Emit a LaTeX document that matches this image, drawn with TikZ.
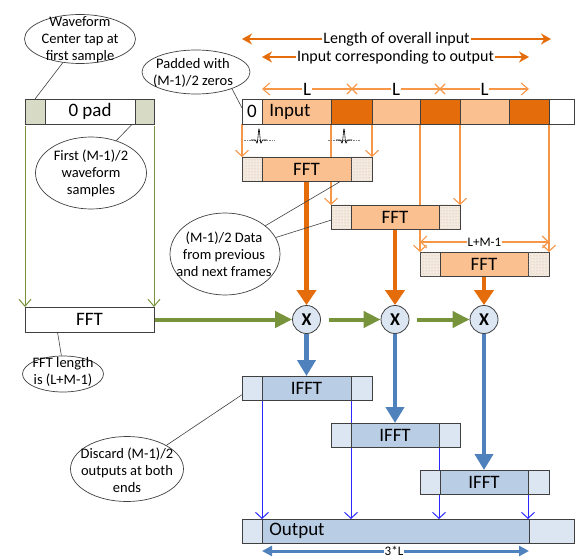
\documentclass[tikz,border=0pt]{standalone}
\usepackage{fontspec}
\setmainfont{Carlito}
\usetikzlibrary{arrows.meta,shapes.geometric,patterns}
\definecolor{dor}{HTML}{E46C0A}
\definecolor{lor}{HTML}{FAC090}
\definecolor{tor}{HTML}{F79646}
\definecolor{grn}{HTML}{77933C}
\definecolor{bthick}{HTML}{4F81BD}
\definecolor{bmid}{HTML}{B9CDE5}
\definecolor{blight}{HTML}{DCE6F2}
\definecolor{gpad}{HTML}{D7DBC6}
\definecolor{beig}{HTML}{F4EADF}
\definecolor{dotc}{HTML}{C9B49E}
\definecolor{bord}{HTML}{404040}
\definecolor{bthin}{HTML}{2A2AFF}
\newcommand{\fsz}[1]{\fontsize{#1}{#1}\selectfont}
\pgfdeclarelayer{bg}
\pgfsetlayers{bg,main}
\begin{document}
\begin{tikzpicture}[x=1pt,y=-1pt,
 seg/.style={draw=bord, line width=0.8pt, inner sep=0pt, outer sep=0pt, anchor=north west, minimum height=24pt, font=\fsz{19}},
 dpad/.style={seg, fill=beig, postaction={pattern=dots, pattern color=dotc}},
 ell/.style={draw=bord, line width=0.7pt, ellipse, inner sep=0pt},
 etext/.style={align=center, font=\fontsize{14.5}{17}\selectfont, inner sep=0pt},
 othin/.style={draw=tor, line width=1.1pt},
 otip/.style={othin, -{Straight Barb[length=6pt,width=13pt]}},
 othk/.style={draw=dor, line width=4.5pt, -{Triangle[length=15pt,width=19pt]}},
 bthk/.style={draw=bthick, line width=4.5pt, -{Triangle[length=16pt,width=18pt]}},
 gthk/.style={draw=grn, line width=4pt, -{Triangle[length=17pt,width=16pt]}},
 gthin/.style={draw=grn, line width=1pt, -{Straight Barb[length=7pt,width=12pt]}},
 bthn/.style={draw=bthin, line width=1pt, -{Straight Barb[length=6pt,width=13pt]}},
 ann/.style={draw=bord, line width=0.6pt},
 xc/.style={circle, draw=bord, fill=blight, line width=0.8pt, minimum size=28pt, inner sep=0pt, font=\bfseries\fsz{18}},
 wlbl/.style={fill=white, inner sep=1pt},
 pulse/.style={black, line width=0.6pt},
 pbase/.style={gray, line width=0.5pt, dash pattern=on 1.5pt off 1pt}
]
\useasboundingbox (0,0) rectangle (576,559);

% ---------- ellipses ----------
\node[ell, minimum width=111pt, minimum height=49pt] (e1) at (80,39) {};
\node[etext] (t1) at (80,40) {Waveform\\Center tap at\\first sample};
\node[ell, minimum width=111pt, minimum height=72pt] (e2) at (91,173) {};
\node[etext] (t2) at (91,173) {First (M-1)/2\\waveform\\samples};
\node[ell, minimum width=108pt, minimum height=44pt] (e3) at (196,72) {};
\node[etext] (t3) at (193,73) {Padded with\\(M-1)/2 zeros};
\node[ell, minimum width=110pt, minimum height=82pt] (e4) at (225,254) {};
\node[etext] (t4) at (224,254) {(M-1)/2 Data\\from previous\\and next frames};
\node[ell, minimum width=81pt, minimum height=36pt] (e5) at (63,374) {};
\node[etext] (t5) at (63,372) {FFT length\\is (L+M-1)};
\node[ell, minimum width=113pt, minimum height=65pt] (e6) at (127,469) {};
\node[etext] (t6) at (127,470) {Discard (M-1)/2\\outputs at both\\ends};

% ---------- 0 pad and left FFT ----------
\node[seg, fill=gpad, minimum width=20pt, minimum height=25pt] (pa) at (25,99) {};
\node[seg, fill=white, minimum width=90pt, minimum height=25pt] (pb) at (45,99) {0 pad};
\node[seg, fill=gpad, minimum width=19pt, minimum height=25pt] (pc) at (135,99) {};
\node[seg, fill=white, minimum width=129pt, minimum height=25pt] (fl) at (25,307) {FFT};
\coordinate (flp) at (56,323);

% ---------- input bar ----------
\node[seg, fill=white, minimum width=20pt, minimum height=25pt] (in0) at (242,99) {0};
\node[seg, fill=lor, minimum width=69pt, minimum height=25pt] (in1) at (262,99) {};
\node[font=\fsz{19}, inner sep=0pt] (inlbl) at (290,111.5) {Input};
\node[seg, fill=dor, minimum width=41pt, minimum height=25pt] (in2) at (331,99) {};
\node[seg, fill=lor, minimum width=48pt, minimum height=25pt] (in3) at (372,99) {};
\node[seg, fill=dor, minimum width=40pt, minimum height=25pt] (in4) at (420,99) {};
\node[seg, fill=lor, minimum width=49pt, minimum height=25pt] (in5) at (460,99) {};
\node[seg, fill=dor, minimum width=40pt, minimum height=25pt] (in6) at (509,99) {};
\node[seg, fill=white, minimum width=25pt, minimum height=25pt] (in7) at (549,99) {};

% ---------- FFT boxes ----------
\node[dpad, minimum width=20pt] (f1a) at (242,157) {};
\node[seg, fill=lor, minimum width=89pt] (f1b) at (262,157) {FFT};
\node[dpad, minimum width=21pt] (f1c) at (351,157) {};
\node[dpad, minimum width=20pt] (f2a) at (331,205) {};
\node[seg, fill=lor, minimum width=88pt] (f2b) at (351,205) {FFT};
\node[dpad, minimum width=21pt] (f2c) at (439,205) {};
\node[dpad, minimum width=20pt] (f3a) at (420,252) {};
\node[seg, fill=lor, minimum width=88pt] (f3b) at (440,252) {FFT};
\node[dpad, minimum width=21pt] (f3c) at (528,252) {};

% ---------- multipliers ----------
\node[xc] (x1) at (306.5,319.5) {X};
\node[xc] (x2) at (395,319.5) {X};
\node[xc] (x3) at (484,319.5) {X};

% ---------- IFFT boxes ----------
\node[seg, fill=blight, minimum width=20pt] (i1a) at (242,376) {};
\node[seg, fill=bmid, minimum width=89pt] (i1b) at (262,376) {IFFT};
\node[seg, fill=blight, minimum width=21pt] (i1c) at (351,376) {};
\node[seg, fill=blight, minimum width=20pt] (i2a) at (331,423) {};
\node[seg, fill=bmid, minimum width=88pt] (i2b) at (351,423) {IFFT};
\node[seg, fill=blight, minimum width=21pt] (i2c) at (439,423) {};
\node[seg, fill=blight, minimum width=20pt] (i3a) at (420,470) {};
\node[seg, fill=bmid, minimum width=88pt] (i3b) at (440,470) {IFFT};
\node[seg, fill=blight, minimum width=21pt] (i3c) at (528,470) {};

% ---------- output ----------
\node[seg, fill=blight, minimum width=20pt] (oa) at (242,519) {};
\node[seg, fill=bmid, minimum width=267pt] (ob) at (262,519) {};
\node[font=\fsz{19}, inner sep=0pt] (olbl) at (297,531) {Output};
\node[seg, fill=blight, minimum width=45pt] (oc) at (529,519) {};

% ---------- connectors behind boxes ----------
\begin{pgfonlayer}{bg}
\draw[otip] (in0.south west) -- (f1a.north west);
\draw[otip] (in2.south west) -- (f2a.north west);
\draw[otip] (in2.south east) -- (f1c.north east);
\draw[otip] (in4.south west) -- (f3a.north west);
\draw[otip] (in4.south east) -- (f2c.north east);
\draw[otip] (in6.south east) -- (f3c.north east);

\draw[othk] (f1b.south) -- (x1.north);
\draw[othk] (f2b.south) -- (x2.north);
\draw[othk] (f3b.south) -- (x3.north);

\draw[bthk] (x1.south) -- (i1b.north);
\draw[bthk] (x2.south) -- (i2b.north);
\draw[bthk] (x3.south) -- (i3b.north);

\draw[gthin, shorten <=2pt] (pa.south west) -- (fl.north west);
\draw[gthin, shorten <=2pt] (pc.south east) -- (fl.north east);
\draw[gthk] (fl.east) -- (x1.west);
\draw[gthk, shorten <=8pt] (x1.east) -- (x2.west);
\draw[gthk, shorten <=8pt] (x2.east) -- (x3.west);

\draw[bthn] (i1a.south east) -- (i1a.south east |- ob.north);
\draw[bthn] (i1c.south west) -- (i1c.south west |- ob.north);
\draw[bthn] (i2c.south west) -- (i2c.south west |- ob.north);
\draw[bthn] (i3c.south west) -- (i3c.south west |- ob.north);

\draw[ann] (e1.-126) -- (pa.north);
\draw[ann] (e2.52) -- (pc.center);
\draw[ann] (e3.-25) -- (in0.160);
\draw[ann] (e4.35) -- (f1c.center);
\draw[ann] (e4.18) -- (f2a.center);
\draw[ann] (e5.95) -- (flp);
\draw[ann] (e6.31) -- (i1a.center);
\end{pgfonlayer}

% ---------- top dimension arrows ----------
\coordinate (T1a) at (242,39);
\coordinate (T1b) at (551,39);
\coordinate (T2a) at (262,57);
\coordinate (T2b) at (529,57);
\draw[draw=dor, line width=2.5pt, {Stealth[length=10pt,width=11pt]}-{Stealth[length=10pt,width=11pt]}]
  (T1a) -- node[wlbl, font=\fsz{16}] (lbl1) {Length of overall input} (T1b);
\draw[draw=dor, line width=2.5pt, {Stealth[length=10pt,width=11pt]}-{Stealth[length=10pt,width=11pt]}]
  (T2a) -- node[wlbl, font=\fsz{16}] (lbl2) {Input corresponding to output} (T2b);

% ---------- L arrows ----------
\coordinate (La) at (262,89);
\coordinate (Lx1) at (352,89);
\coordinate (Lx2) at (440,89);
\coordinate (Lb) at (529,89);
\draw[othin, {Straight Barb[length=7pt,width=12pt]}-] (La) -- node[wlbl, font=\fsz{19}] (L1) {L} (Lx1);
\draw[othin] (Lx1) -- node[wlbl, font=\fsz{19}] (L2) {L} (Lx2);
\draw[othin, -{Straight Barb[length=7pt,width=12pt]}] (Lx2) -- node[wlbl, font=\fsz{19}] (L3) {L} (Lb);
\draw[othin] (Lx1) ++(-5,-5) -- ++(10,10) (Lx1) ++(-5,5) -- ++(10,-10);
\draw[othin] (Lx2) ++(-5,-5) -- ++(10,10) (Lx2) ++(-5,5) -- ++(10,-10);

% ---------- L+M-1 ----------
\coordinate (Ma) at (420,242);
\coordinate (Mb) at (549,242);
\draw[othin, {Straight Barb[length=6pt,width=12pt]}-{Straight Barb[length=6pt,width=12pt]}]
  (Ma) -- node[wlbl, font=\fsz{13}] (lm) {L+M-1} (Mb);

% ---------- pulses ----------
\draw[pbase] (244,140) -- (275,140);
\draw[pulse] plot[domain=-8:8, samples=81, smooth] ({259+\x},{140-11*exp(-0.25*\x*\x)*cos(70*\x)});
\draw[pbase] (328,140) -- (360,140);
\draw[pulse] plot[domain=-8:8, samples=81, smooth] ({344+\x},{140-11*exp(-0.25*\x*\x)*cos(70*\x)});

% ---------- 3*L ----------
\coordinate (Ba) at (262,551);
\coordinate (Bb) at (529,551);
\draw[draw=bthick, line width=3pt, {Triangle[length=10pt,width=10pt]}-{Triangle[length=10pt,width=10pt]}] (Ba) -- (Bb);
\node[wlbl, font=\fsz{13}, anchor=center] (b3) at (394,551) {3*L};
\end{tikzpicture}
\end{document}
